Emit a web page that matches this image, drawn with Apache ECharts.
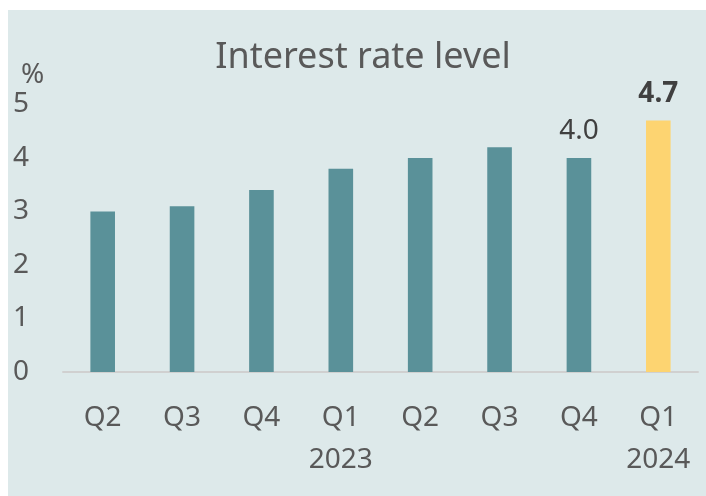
<!DOCTYPE html>
<html>
<head>
<meta charset="utf-8">
<script src="https://cdn.jsdelivr.net/npm/echarts@6/dist/echarts.min.js"></script>
<style>
html,body{margin:0;padding:0;background:#ffffff;}
#c{position:absolute;left:8px;top:10px;width:698px;height:486px;background:#dde9ea;}
</style>
</head>
<body>
<div id="c"></div>
<script>
const categories = ['Q2', 'Q3', 'Q4', 'Q1\n2023', 'Q2', 'Q3', 'Q4', 'Q1\n2024'];
const values = [3.0, 3.1, 3.4, 3.8, 4.0, 4.2, 4.0, 4.7];
const yTicks = [0, 1, 2, 3, 4, 5];
const titleText = 'Interest rate level';
const unitText = '%';

const FONT = '"Noto Sans", "Open Sans", sans-serif';
const teal = '#5a9199';
const yellow = '#fdd471';

const data = values.map((v, i) => {
  const item = { value: v };
  if (i === values.length - 1) {
    item.itemStyle = { color: yellow };
    item.label = { show: true, fontWeight: 'bold', formatter: p => p.value.toFixed(1) };
  } else if (i === values.length - 2) {
    item.label = { show: true, fontWeight: 'normal', formatter: p => p.value.toFixed(1) };
  }
  return item;
});

const chart = echarts.init(document.getElementById('c'), null, { renderer: 'canvas' });
chart.setOption({
  backgroundColor: 'transparent',
  animation: false,
  title: {
    text: titleText,
    left: 350, top: 25, textAlign: 'center',
    textStyle: { fontFamily: FONT, fontSize: 36, fontWeight: 'normal', color: '#595959' }
  },
  graphic: [{
    type: 'text', left: 13, top: 51,
    style: { text: unitText, font: "28px 'Noto Sans', sans-serif", fill: '#595959' }
  }],
  grid: { left: 55, right: 8, top: 94.5, bottom: 124 },
  xAxis: {
    type: 'category',
    data: categories,
    axisLine: { show: true, lineStyle: { color: '#d0d0d0', width: 2 } },
    axisTick: { show: false },
    axisLabel: {
      fontFamily: FONT, fontSize: 28, color: '#595959',
      lineHeight: 42, margin: 25, interval: 0
    }
  },
  yAxis: {
    type: 'value',
    min: yTicks[0], max: yTicks[yTicks.length - 1], interval: 1,
    splitLine: { show: false },
    axisLine: { show: false },
    axisTick: { show: false },
    axisLabel: { fontFamily: FONT, fontSize: 28, color: '#595959', margin: 34 }
  },
  series: [{
    type: 'bar',
    data: data,
    barWidth: '31%',
    itemStyle: { color: teal },
    label: {
      show: false, position: 'top', distance: 13,
      fontFamily: FONT, fontSize: 28, color: '#404040'
    }
  }]
});
</script>
</body>
</html>
